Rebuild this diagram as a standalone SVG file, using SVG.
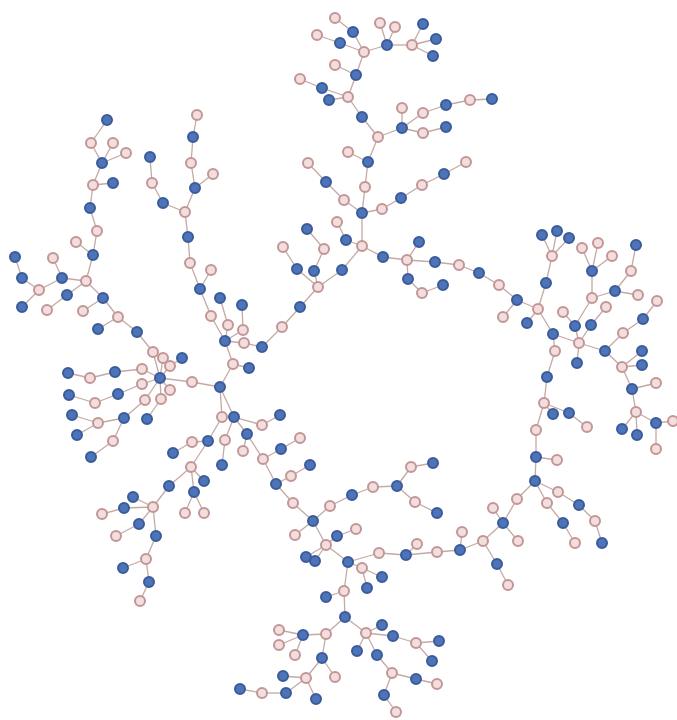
<svg xmlns="http://www.w3.org/2000/svg" width="677" height="720" viewBox="0 0 677 720">
<style>
.e line{stroke:#c4a9a4;stroke-width:1.3}
.b circle{fill:#4d74b8;stroke:#3a5b9a;stroke-width:2}
.p circle{fill:#f2dede;stroke:#c39595;stroke-width:2}
</style>
<rect width="677" height="720" fill="#ffffff"/>
<g id="connectors" class="e">
<line x1="107" y1="120" x2="91" y2="143"/><line x1="91" y1="143" x2="102" y2="163"/><line x1="113" y1="143" x2="102" y2="163"/><line x1="126" y1="153" x2="102" y2="163"/><line x1="102" y1="163" x2="93" y2="185"/><line x1="113" y1="183" x2="93" y2="185"/><line x1="93" y1="185" x2="90" y2="208"/><line x1="90" y1="208" x2="97" y2="231"/><line x1="97" y1="231" x2="93" y2="255"/><line x1="76" y1="242" x2="93" y2="255"/><line x1="93" y1="255" x2="86" y2="281"/><line x1="86" y1="281" x2="62" y2="278"/><line x1="62" y1="278" x2="53" y2="258"/><line x1="62" y1="278" x2="39" y2="290"/><line x1="39" y1="290" x2="22" y2="278"/><line x1="22" y1="278" x2="15" y2="257"/><line x1="39" y1="290" x2="22" y2="307"/><line x1="86" y1="281" x2="67" y2="295"/><line x1="67" y1="295" x2="47" y2="310"/><line x1="86" y1="281" x2="103" y2="298"/><line x1="103" y1="298" x2="83" y2="311"/><line x1="103" y1="298" x2="118" y2="317"/><line x1="118" y1="317" x2="98" y2="329"/><line x1="118" y1="317" x2="137" y2="332"/><line x1="137" y1="332" x2="153" y2="352"/><line x1="153" y1="352" x2="160" y2="378"/><line x1="163" y1="358" x2="160" y2="378"/><line x1="170" y1="366" x2="160" y2="378"/><line x1="170" y1="366" x2="182" y2="358"/><line x1="142" y1="369" x2="160" y2="378"/><line x1="115" y1="372" x2="142" y2="369"/><line x1="90" y1="378" x2="115" y2="372"/><line x1="68" y1="373" x2="90" y2="378"/><line x1="142" y1="384" x2="160" y2="378"/><line x1="118" y1="394" x2="142" y2="384"/><line x1="95" y1="403" x2="118" y2="394"/><line x1="69" y1="395" x2="95" y2="403"/><line x1="145" y1="400" x2="160" y2="378"/><line x1="124" y1="418" x2="145" y2="400"/><line x1="98" y1="423" x2="124" y2="418"/><line x1="72" y1="415" x2="98" y2="423"/><line x1="77" y1="435" x2="98" y2="423"/><line x1="113" y1="441" x2="124" y2="418"/><line x1="91" y1="457" x2="113" y2="441"/><line x1="161" y1="399" x2="160" y2="378"/><line x1="147" y1="419" x2="161" y2="399"/><line x1="170" y1="390" x2="160" y2="378"/><line x1="192" y1="382" x2="160" y2="378"/><line x1="192" y1="382" x2="220" y2="387"/>
<line x1="150" y1="157" x2="152" y2="183"/><line x1="152" y1="183" x2="163" y2="203"/><line x1="163" y1="203" x2="185" y2="212"/><line x1="197" y1="115" x2="193" y2="137"/><line x1="193" y1="137" x2="191" y2="163"/><line x1="191" y1="163" x2="195" y2="188"/><line x1="213" y1="174" x2="195" y2="188"/><line x1="195" y1="188" x2="185" y2="212"/><line x1="185" y1="212" x2="188" y2="237"/><line x1="188" y1="237" x2="190" y2="263"/><line x1="190" y1="263" x2="200" y2="289"/><line x1="211" y1="270" x2="200" y2="289"/><line x1="200" y1="289" x2="211" y2="316"/><line x1="228" y1="325" x2="220" y2="298"/><line x1="211" y1="316" x2="225" y2="341"/><line x1="225" y1="341" x2="228" y2="325"/><line x1="225" y1="341" x2="243" y2="330"/><line x1="243" y1="330" x2="242" y2="305"/><line x1="225" y1="341" x2="244" y2="343"/><line x1="244" y1="343" x2="262" y2="347"/><line x1="225" y1="341" x2="233" y2="364"/><line x1="233" y1="364" x2="220" y2="387"/><line x1="233" y1="364" x2="249" y2="368"/><line x1="262" y1="347" x2="282" y2="327"/><line x1="282" y1="327" x2="300" y2="307"/><line x1="300" y1="307" x2="318" y2="287"/>
<line x1="318" y1="287" x2="297" y2="269"/><line x1="297" y1="269" x2="283" y2="247"/><line x1="318" y1="287" x2="314" y2="271"/><line x1="314" y1="271" x2="324" y2="249"/><line x1="324" y1="249" x2="307" y2="229"/><line x1="318" y1="287" x2="342" y2="270"/><line x1="342" y1="270" x2="362" y2="246"/><line x1="362" y1="246" x2="346" y2="240"/><line x1="346" y1="240" x2="337" y2="222"/><line x1="362" y1="246" x2="362" y2="213"/><line x1="362" y1="213" x2="344" y2="200"/><line x1="344" y1="200" x2="326" y2="182"/><line x1="326" y1="182" x2="308" y2="163"/><line x1="362" y1="213" x2="382" y2="209"/><line x1="382" y1="209" x2="401" y2="198"/><line x1="401" y1="198" x2="422" y2="185"/><line x1="422" y1="185" x2="444" y2="174"/><line x1="444" y1="174" x2="466" y2="162"/><line x1="362" y1="213" x2="365" y2="187"/><line x1="365" y1="187" x2="368" y2="162"/><line x1="368" y1="162" x2="348" y2="152"/><line x1="368" y1="162" x2="378" y2="137"/><line x1="378" y1="137" x2="362" y2="117"/><line x1="362" y1="117" x2="348" y2="97"/><line x1="348" y1="97" x2="329" y2="100"/><line x1="348" y1="97" x2="322" y2="88"/><line x1="322" y1="88" x2="300" y2="79"/><line x1="348" y1="97" x2="356" y2="75"/><line x1="356" y1="75" x2="335" y2="65"/><line x1="356" y1="75" x2="364" y2="52"/><line x1="364" y1="52" x2="353" y2="32"/><line x1="353" y1="32" x2="335" y2="18"/><line x1="364" y1="52" x2="340" y2="43"/><line x1="340" y1="43" x2="317" y2="35"/><line x1="364" y1="52" x2="387" y2="45"/><line x1="387" y1="45" x2="380" y2="23"/><line x1="387" y1="45" x2="395" y2="27"/><line x1="387" y1="45" x2="412" y2="45"/><line x1="412" y1="45" x2="423" y2="24"/><line x1="412" y1="45" x2="436" y2="39"/><line x1="412" y1="45" x2="433" y2="56"/><line x1="378" y1="137" x2="402" y2="128"/><line x1="402" y1="128" x2="402" y2="108"/><line x1="402" y1="128" x2="423" y2="113"/><line x1="423" y1="113" x2="446" y2="105"/><line x1="446" y1="105" x2="470" y2="100"/><line x1="470" y1="100" x2="492" y2="99"/><line x1="402" y1="128" x2="423" y2="133"/><line x1="423" y1="133" x2="446" y2="127"/>
<line x1="362" y1="246" x2="383" y2="257"/><line x1="383" y1="257" x2="407" y2="260"/><line x1="407" y1="260" x2="419" y2="242"/><line x1="407" y1="260" x2="408" y2="279"/><line x1="408" y1="279" x2="422" y2="293"/><line x1="422" y1="293" x2="443" y2="285"/><line x1="407" y1="260" x2="435" y2="262"/><line x1="435" y1="262" x2="459" y2="265"/><line x1="459" y1="265" x2="479" y2="273"/><line x1="479" y1="273" x2="499" y2="285"/><line x1="499" y1="285" x2="517" y2="300"/><line x1="517" y1="300" x2="503" y2="317"/><line x1="517" y1="300" x2="538" y2="309"/><line x1="538" y1="309" x2="527" y2="323"/><line x1="538" y1="309" x2="546" y2="283"/><line x1="546" y1="283" x2="552" y2="256"/><line x1="552" y1="256" x2="542" y2="235"/><line x1="552" y1="256" x2="557" y2="231"/><line x1="552" y1="256" x2="569" y2="238"/><line x1="538" y1="309" x2="553" y2="334"/><line x1="553" y1="334" x2="579" y2="343"/><line x1="579" y1="343" x2="575" y2="326"/><line x1="575" y1="326" x2="563" y2="312"/><line x1="579" y1="343" x2="591" y2="325"/><line x1="575" y1="326" x2="592" y2="298"/><line x1="591" y1="325" x2="606" y2="307"/><line x1="592" y1="298" x2="592" y2="271"/><line x1="592" y1="271" x2="582" y2="248"/><line x1="592" y1="271" x2="598" y2="243"/><line x1="592" y1="271" x2="612" y2="256"/><line x1="592" y1="298" x2="615" y2="291"/><line x1="615" y1="291" x2="631" y2="271"/><line x1="631" y1="271" x2="636" y2="245"/><line x1="615" y1="291" x2="638" y2="295"/><line x1="579" y1="343" x2="577" y2="363"/><line x1="579" y1="343" x2="605" y2="351"/><line x1="605" y1="351" x2="623" y2="333"/><line x1="623" y1="333" x2="643" y2="319"/><line x1="643" y1="319" x2="657" y2="301"/><line x1="605" y1="351" x2="622" y2="367"/><line x1="622" y1="367" x2="642" y2="351"/><line x1="622" y1="367" x2="642" y2="365"/><line x1="622" y1="367" x2="632" y2="389"/><line x1="632" y1="389" x2="656" y2="383"/><line x1="632" y1="389" x2="636" y2="412"/><line x1="636" y1="412" x2="622" y2="429"/><line x1="636" y1="412" x2="637" y2="435"/><line x1="636" y1="412" x2="656" y2="423"/><line x1="656" y1="423" x2="673" y2="421"/><line x1="656" y1="423" x2="656" y2="449"/><line x1="553" y1="334" x2="555" y2="351"/><line x1="555" y1="351" x2="547" y2="377"/><line x1="547" y1="377" x2="544" y2="403"/><line x1="544" y1="403" x2="553" y2="414"/><line x1="544" y1="403" x2="569" y2="413"/><line x1="569" y1="413" x2="587" y2="427"/><line x1="544" y1="403" x2="536" y2="430"/><line x1="536" y1="430" x2="536" y2="457"/><line x1="536" y1="457" x2="557" y2="460"/><line x1="536" y1="457" x2="535" y2="481"/>
<line x1="535" y1="481" x2="517" y2="499"/><line x1="517" y1="499" x2="503" y2="523"/><line x1="503" y1="523" x2="493" y2="508"/><line x1="503" y1="523" x2="518" y2="541"/><line x1="503" y1="523" x2="483" y2="541"/><line x1="483" y1="541" x2="497" y2="564"/><line x1="497" y1="564" x2="508" y2="585"/><line x1="535" y1="481" x2="558" y2="492"/><line x1="558" y1="492" x2="579" y2="505"/><line x1="579" y1="505" x2="595" y2="521"/><line x1="595" y1="521" x2="602" y2="543"/><line x1="535" y1="481" x2="547" y2="503"/><line x1="547" y1="503" x2="563" y2="523"/><line x1="563" y1="523" x2="575" y2="543"/><line x1="483" y1="541" x2="460" y2="550"/><line x1="460" y1="550" x2="462" y2="532"/><line x1="460" y1="550" x2="437" y2="552"/>
<line x1="437" y1="552" x2="406" y2="555"/><line x1="406" y1="555" x2="417" y2="544"/><line x1="406" y1="555" x2="379" y2="553"/><line x1="379" y1="553" x2="348" y2="562"/><line x1="348" y1="562" x2="362" y2="568"/><line x1="362" y1="568" x2="382" y2="577"/><line x1="362" y1="568" x2="367" y2="588"/><line x1="348" y1="562" x2="326" y2="545"/><line x1="326" y1="545" x2="306" y2="557"/><line x1="326" y1="545" x2="315" y2="561"/><line x1="326" y1="545" x2="337" y2="536"/><line x1="337" y1="536" x2="356" y2="529"/><line x1="326" y1="545" x2="313" y2="521"/><line x1="313" y1="521" x2="295" y2="535"/><line x1="313" y1="521" x2="330" y2="506"/><line x1="330" y1="506" x2="352" y2="495"/><line x1="352" y1="495" x2="373" y2="487"/><line x1="373" y1="487" x2="397" y2="486"/><line x1="397" y1="486" x2="411" y2="467"/><line x1="411" y1="467" x2="433" y2="463"/><line x1="397" y1="486" x2="415" y2="502"/><line x1="415" y1="502" x2="437" y2="513"/><line x1="313" y1="521" x2="293" y2="503"/><line x1="293" y1="503" x2="276" y2="484"/><line x1="276" y1="484" x2="291" y2="476"/><line x1="291" y1="476" x2="310" y2="465"/><line x1="276" y1="484" x2="263" y2="459"/><line x1="263" y1="459" x2="281" y2="449"/><line x1="281" y1="449" x2="300" y2="438"/><line x1="263" y1="459" x2="247" y2="434"/><line x1="247" y1="434" x2="243" y2="451"/><line x1="247" y1="434" x2="234" y2="417"/><line x1="234" y1="417" x2="262" y2="425"/><line x1="262" y1="425" x2="280" y2="415"/><line x1="234" y1="417" x2="220" y2="387"/><line x1="222" y1="417" x2="220" y2="387"/><line x1="222" y1="417" x2="208" y2="441"/><line x1="208" y1="441" x2="192" y2="442"/><line x1="192" y1="442" x2="173" y2="453"/><line x1="234" y1="417" x2="225" y2="440"/><line x1="225" y1="440" x2="222" y2="465"/><line x1="348" y1="562" x2="344" y2="591"/><line x1="344" y1="591" x2="326" y2="597"/><line x1="344" y1="591" x2="345" y2="617"/><line x1="345" y1="617" x2="326" y2="634"/><line x1="326" y1="634" x2="303" y2="635"/><line x1="303" y1="635" x2="279" y2="630"/><line x1="303" y1="635" x2="279" y2="645"/><line x1="303" y1="635" x2="295" y2="655"/><line x1="326" y1="634" x2="322" y2="658"/><line x1="322" y1="658" x2="335" y2="677"/><line x1="322" y1="658" x2="306" y2="678"/><line x1="306" y1="678" x2="283" y2="676"/><line x1="306" y1="678" x2="286" y2="693"/><line x1="286" y1="693" x2="262" y2="693"/><line x1="262" y1="693" x2="240" y2="689"/><line x1="306" y1="678" x2="316" y2="699"/><line x1="345" y1="617" x2="366" y2="633"/><line x1="366" y1="633" x2="382" y2="625"/><line x1="366" y1="633" x2="393" y2="636"/><line x1="393" y1="636" x2="416" y2="643"/><line x1="416" y1="643" x2="439" y2="641"/><line x1="416" y1="643" x2="432" y2="661"/><line x1="366" y1="633" x2="357" y2="651"/><line x1="366" y1="633" x2="377" y2="655"/><line x1="377" y1="655" x2="392" y2="673"/><line x1="392" y1="673" x2="416" y2="679"/><line x1="416" y1="679" x2="437" y2="684"/><line x1="392" y1="673" x2="384" y2="695"/><line x1="384" y1="695" x2="396" y2="712"/>
<line x1="208" y1="441" x2="191" y2="467"/><line x1="191" y1="467" x2="169" y2="486"/><line x1="169" y1="486" x2="153" y2="507"/><line x1="191" y1="467" x2="204" y2="481"/><line x1="191" y1="467" x2="194" y2="492"/><line x1="194" y1="492" x2="185" y2="513"/><line x1="194" y1="492" x2="204" y2="513"/><line x1="153" y1="507" x2="133" y2="497"/><line x1="153" y1="507" x2="124" y2="508"/><line x1="124" y1="508" x2="102" y2="514"/><line x1="153" y1="507" x2="139" y2="524"/><line x1="139" y1="524" x2="116" y2="536"/><line x1="153" y1="507" x2="156" y2="536"/><line x1="156" y1="536" x2="146" y2="559"/><line x1="146" y1="559" x2="123" y2="568"/><line x1="146" y1="559" x2="149" y2="582"/><line x1="149" y1="582" x2="140" y2="601"/>
</g>
<g id="nodes">
<g id="n1" class="b"><circle cx="107" cy="120" r="5"/></g>
<g id="n2" class="p"><circle cx="91" cy="143" r="5"/></g>
<g id="n3" class="p"><circle cx="113" cy="143" r="5"/></g>
<g id="n4" class="p"><circle cx="126" cy="153" r="5"/></g>
<g id="n5" class="b"><circle cx="102" cy="163" r="5"/></g>
<g id="n6" class="b"><circle cx="113" cy="183" r="5"/></g>
<g id="n7" class="p"><circle cx="93" cy="185" r="5"/></g>
<g id="n8" class="b"><circle cx="90" cy="208" r="5"/></g>
<g id="n9" class="p"><circle cx="97" cy="231" r="5"/></g>
<g id="n10" class="p"><circle cx="76" cy="242" r="5"/></g>
<g id="n11" class="b"><circle cx="93" cy="255" r="5"/></g>
<g id="n12" class="p"><circle cx="86" cy="281" r="5"/></g>
<g id="n13" class="b"><circle cx="62" cy="278" r="5"/></g>
<g id="n14" class="p"><circle cx="53" cy="258" r="5"/></g>
<g id="n15" class="p"><circle cx="39" cy="290" r="5"/></g>
<g id="n16" class="b"><circle cx="22" cy="278" r="5"/></g>
<g id="n17" class="b"><circle cx="15" cy="257" r="5"/></g>
<g id="n18" class="b"><circle cx="22" cy="307" r="5"/></g>
<g id="n19" class="b"><circle cx="67" cy="295" r="5"/></g>
<g id="n20" class="p"><circle cx="47" cy="310" r="5"/></g>
<g id="n21" class="p"><circle cx="83" cy="311" r="5"/></g>
<g id="n22" class="b"><circle cx="103" cy="298" r="5"/></g>
<g id="n23" class="p"><circle cx="118" cy="317" r="5"/></g>
<g id="n24" class="b"><circle cx="98" cy="329" r="5"/></g>
<g id="n25" class="b"><circle cx="137" cy="332" r="5"/></g>
<g id="n26" class="p"><circle cx="153" cy="352" r="5"/></g>
<g id="n27" class="p"><circle cx="163" cy="358" r="5"/></g>
<g id="n28" class="p"><circle cx="170" cy="366" r="5"/></g>
<g id="n29" class="b"><circle cx="182" cy="358" r="5"/></g>
<g id="n30" class="b"><circle cx="160" cy="378" r="5"/></g>
<g id="n31" class="p"><circle cx="142" cy="369" r="5"/></g>
<g id="n32" class="b"><circle cx="115" cy="372" r="5"/></g>
<g id="n33" class="p"><circle cx="90" cy="378" r="5"/></g>
<g id="n34" class="b"><circle cx="68" cy="373" r="5"/></g>
<g id="n35" class="p"><circle cx="142" cy="384" r="5"/></g>
<g id="n36" class="b"><circle cx="118" cy="394" r="5"/></g>
<g id="n37" class="p"><circle cx="95" cy="403" r="5"/></g>
<g id="n38" class="b"><circle cx="69" cy="395" r="5"/></g>
<g id="n39" class="p"><circle cx="145" cy="400" r="5"/></g>
<g id="n40" class="b"><circle cx="124" cy="418" r="5"/></g>
<g id="n41" class="p"><circle cx="98" cy="423" r="5"/></g>
<g id="n42" class="b"><circle cx="72" cy="415" r="5"/></g>
<g id="n43" class="b"><circle cx="77" cy="435" r="5"/></g>
<g id="n44" class="p"><circle cx="113" cy="441" r="5"/></g>
<g id="n45" class="b"><circle cx="91" cy="457" r="5"/></g>
<g id="n46" class="p"><circle cx="161" cy="399" r="5"/></g>
<g id="n47" class="b"><circle cx="147" cy="419" r="5"/></g>
<g id="n48" class="p"><circle cx="170" cy="390" r="5"/></g>
<g id="n49" class="p"><circle cx="192" cy="382" r="5"/></g>
<g id="n50" class="b"><circle cx="220" cy="387" r="5"/></g>
<g id="n51" class="b"><circle cx="150" cy="157" r="5"/></g>
<g id="n52" class="p"><circle cx="152" cy="183" r="5"/></g>
<g id="n53" class="b"><circle cx="163" cy="203" r="5"/></g>
<g id="n54" class="p"><circle cx="185" cy="212" r="5"/></g>
<g id="n55" class="p"><circle cx="197" cy="115" r="5"/></g>
<g id="n56" class="b"><circle cx="193" cy="137" r="5"/></g>
<g id="n57" class="p"><circle cx="191" cy="163" r="5"/></g>
<g id="n58" class="p"><circle cx="213" cy="174" r="5"/></g>
<g id="n59" class="b"><circle cx="195" cy="188" r="5"/></g>
<g id="n60" class="b"><circle cx="188" cy="237" r="5"/></g>
<g id="n61" class="p"><circle cx="190" cy="263" r="5"/></g>
<g id="n62" class="p"><circle cx="211" cy="270" r="5"/></g>
<g id="n63" class="b"><circle cx="200" cy="289" r="5"/></g>
<g id="n64" class="p"><circle cx="211" cy="316" r="5"/></g>
<g id="n65" class="b"><circle cx="220" cy="298" r="5"/></g>
<g id="n66" class="b"><circle cx="225" cy="341" r="5"/></g>
<g id="n67" class="p"><circle cx="228" cy="325" r="5"/></g>
<g id="n68" class="p"><circle cx="243" cy="330" r="5"/></g>
<g id="n69" class="b"><circle cx="242" cy="305" r="5"/></g>
<g id="n70" class="p"><circle cx="244" cy="343" r="5"/></g>
<g id="n71" class="p"><circle cx="233" cy="364" r="5"/></g>
<g id="n72" class="b"><circle cx="249" cy="368" r="5"/></g>
<g id="n73" class="b"><circle cx="262" cy="347" r="5"/></g>
<g id="n74" class="p"><circle cx="282" cy="327" r="5"/></g>
<g id="n75" class="b"><circle cx="300" cy="307" r="5"/></g>
<g id="n76" class="p"><circle cx="318" cy="287" r="5"/></g>
<g id="n77" class="b"><circle cx="297" cy="269" r="5"/></g>
<g id="n78" class="p"><circle cx="283" cy="247" r="5"/></g>
<g id="n79" class="b"><circle cx="314" cy="271" r="5"/></g>
<g id="n80" class="p"><circle cx="324" cy="249" r="5"/></g>
<g id="n81" class="b"><circle cx="307" cy="229" r="5"/></g>
<g id="n82" class="b"><circle cx="342" cy="270" r="5"/></g>
<g id="n83" class="p"><circle cx="362" cy="246" r="5"/></g>
<g id="n84" class="b"><circle cx="346" cy="240" r="5"/></g>
<g id="n85" class="p"><circle cx="337" cy="222" r="5"/></g>
<g id="n86" class="b"><circle cx="362" cy="213" r="5"/></g>
<g id="n87" class="p"><circle cx="344" cy="200" r="5"/></g>
<g id="n88" class="b"><circle cx="326" cy="182" r="5"/></g>
<g id="n89" class="p"><circle cx="308" cy="163" r="5"/></g>
<g id="n90" class="p"><circle cx="382" cy="209" r="5"/></g>
<g id="n91" class="b"><circle cx="401" cy="198" r="5"/></g>
<g id="n92" class="p"><circle cx="422" cy="185" r="5"/></g>
<g id="n93" class="b"><circle cx="444" cy="174" r="5"/></g>
<g id="n94" class="p"><circle cx="466" cy="162" r="5"/></g>
<g id="n95" class="p"><circle cx="365" cy="187" r="5"/></g>
<g id="n96" class="b"><circle cx="368" cy="162" r="5"/></g>
<g id="n97" class="p"><circle cx="348" cy="152" r="5"/></g>
<g id="n98" class="p"><circle cx="378" cy="137" r="5"/></g>
<g id="n99" class="b"><circle cx="362" cy="117" r="5"/></g>
<g id="n100" class="p"><circle cx="348" cy="97" r="5"/></g>
<g id="n101" class="b"><circle cx="329" cy="100" r="5"/></g>
<g id="n102" class="b"><circle cx="322" cy="88" r="5"/></g>
<g id="n103" class="p"><circle cx="300" cy="79" r="5"/></g>
<g id="n104" class="b"><circle cx="356" cy="75" r="5"/></g>
<g id="n105" class="p"><circle cx="335" cy="65" r="5"/></g>
<g id="n106" class="p"><circle cx="364" cy="52" r="5"/></g>
<g id="n107" class="b"><circle cx="353" cy="32" r="5"/></g>
<g id="n108" class="p"><circle cx="335" cy="18" r="5"/></g>
<g id="n109" class="b"><circle cx="340" cy="43" r="5"/></g>
<g id="n110" class="p"><circle cx="317" cy="35" r="5"/></g>
<g id="n111" class="b"><circle cx="387" cy="45" r="5"/></g>
<g id="n112" class="p"><circle cx="380" cy="23" r="5"/></g>
<g id="n113" class="p"><circle cx="395" cy="27" r="5"/></g>
<g id="n114" class="p"><circle cx="412" cy="45" r="5"/></g>
<g id="n115" class="b"><circle cx="423" cy="24" r="5"/></g>
<g id="n116" class="b"><circle cx="436" cy="39" r="5"/></g>
<g id="n117" class="b"><circle cx="433" cy="56" r="5"/></g>
<g id="n118" class="b"><circle cx="402" cy="128" r="5"/></g>
<g id="n119" class="p"><circle cx="402" cy="108" r="5"/></g>
<g id="n120" class="p"><circle cx="423" cy="113" r="5"/></g>
<g id="n121" class="b"><circle cx="446" cy="105" r="5"/></g>
<g id="n122" class="p"><circle cx="470" cy="100" r="5"/></g>
<g id="n123" class="b"><circle cx="492" cy="99" r="5"/></g>
<g id="n124" class="p"><circle cx="423" cy="133" r="5"/></g>
<g id="n125" class="b"><circle cx="446" cy="127" r="5"/></g>
<g id="n126" class="b"><circle cx="383" cy="257" r="5"/></g>
<g id="n127" class="p"><circle cx="407" cy="260" r="5"/></g>
<g id="n128" class="b"><circle cx="419" cy="242" r="5"/></g>
<g id="n129" class="b"><circle cx="408" cy="279" r="5"/></g>
<g id="n130" class="p"><circle cx="422" cy="293" r="5"/></g>
<g id="n131" class="b"><circle cx="443" cy="285" r="5"/></g>
<g id="n132" class="b"><circle cx="435" cy="262" r="5"/></g>
<g id="n133" class="p"><circle cx="459" cy="265" r="5"/></g>
<g id="n134" class="b"><circle cx="479" cy="273" r="5"/></g>
<g id="n135" class="p"><circle cx="499" cy="285" r="5"/></g>
<g id="n136" class="b"><circle cx="517" cy="300" r="5"/></g>
<g id="n137" class="p"><circle cx="503" cy="317" r="5"/></g>
<g id="n138" class="p"><circle cx="538" cy="309" r="5"/></g>
<g id="n139" class="b"><circle cx="527" cy="323" r="5"/></g>
<g id="n140" class="b"><circle cx="546" cy="283" r="5"/></g>
<g id="n141" class="p"><circle cx="552" cy="256" r="5"/></g>
<g id="n142" class="b"><circle cx="542" cy="235" r="5"/></g>
<g id="n143" class="b"><circle cx="557" cy="231" r="5"/></g>
<g id="n144" class="b"><circle cx="569" cy="238" r="5"/></g>
<g id="n145" class="b"><circle cx="553" cy="334" r="5"/></g>
<g id="n146" class="p"><circle cx="579" cy="343" r="5"/></g>
<g id="n147" class="b"><circle cx="575" cy="326" r="5"/></g>
<g id="n148" class="p"><circle cx="563" cy="312" r="5"/></g>
<g id="n149" class="b"><circle cx="591" cy="325" r="5"/></g>
<g id="n150" class="p"><circle cx="592" cy="298" r="5"/></g>
<g id="n151" class="p"><circle cx="606" cy="307" r="5"/></g>
<g id="n152" class="b"><circle cx="592" cy="271" r="5"/></g>
<g id="n153" class="p"><circle cx="582" cy="248" r="5"/></g>
<g id="n154" class="p"><circle cx="598" cy="243" r="5"/></g>
<g id="n155" class="p"><circle cx="612" cy="256" r="5"/></g>
<g id="n156" class="b"><circle cx="615" cy="291" r="5"/></g>
<g id="n157" class="p"><circle cx="631" cy="271" r="5"/></g>
<g id="n158" class="b"><circle cx="636" cy="245" r="5"/></g>
<g id="n159" class="p"><circle cx="638" cy="295" r="5"/></g>
<g id="n160" class="b"><circle cx="577" cy="363" r="5"/></g>
<g id="n161" class="b"><circle cx="605" cy="351" r="5"/></g>
<g id="n162" class="p"><circle cx="623" cy="333" r="5"/></g>
<g id="n163" class="b"><circle cx="643" cy="319" r="5"/></g>
<g id="n164" class="p"><circle cx="657" cy="301" r="5"/></g>
<g id="n165" class="p"><circle cx="622" cy="367" r="5"/></g>
<g id="n166" class="b"><circle cx="642" cy="351" r="5"/></g>
<g id="n167" class="b"><circle cx="642" cy="365" r="5"/></g>
<g id="n168" class="b"><circle cx="632" cy="389" r="5"/></g>
<g id="n169" class="p"><circle cx="656" cy="383" r="5"/></g>
<g id="n170" class="p"><circle cx="636" cy="412" r="5"/></g>
<g id="n171" class="b"><circle cx="622" cy="429" r="5"/></g>
<g id="n172" class="b"><circle cx="637" cy="435" r="5"/></g>
<g id="n173" class="b"><circle cx="656" cy="423" r="5"/></g>
<g id="n174" class="p"><circle cx="673" cy="421" r="5"/></g>
<g id="n175" class="p"><circle cx="656" cy="449" r="5"/></g>
<g id="n176" class="p"><circle cx="555" cy="351" r="5"/></g>
<g id="n177" class="b"><circle cx="547" cy="377" r="5"/></g>
<g id="n178" class="p"><circle cx="544" cy="403" r="5"/></g>
<g id="n179" class="b"><circle cx="553" cy="414" r="5"/></g>
<g id="n180" class="b"><circle cx="569" cy="413" r="5"/></g>
<g id="n181" class="p"><circle cx="587" cy="427" r="5"/></g>
<g id="n182" class="p"><circle cx="536" cy="430" r="5"/></g>
<g id="n183" class="b"><circle cx="536" cy="457" r="5"/></g>
<g id="n184" class="p"><circle cx="557" cy="460" r="5"/></g>
<g id="n185" class="b"><circle cx="535" cy="481" r="5"/></g>
<g id="n186" class="p"><circle cx="517" cy="499" r="5"/></g>
<g id="n187" class="b"><circle cx="503" cy="523" r="5"/></g>
<g id="n188" class="p"><circle cx="493" cy="508" r="5"/></g>
<g id="n189" class="p"><circle cx="518" cy="541" r="5"/></g>
<g id="n190" class="p"><circle cx="483" cy="541" r="5"/></g>
<g id="n191" class="b"><circle cx="497" cy="564" r="5"/></g>
<g id="n192" class="p"><circle cx="508" cy="585" r="5"/></g>
<g id="n193" class="p"><circle cx="558" cy="492" r="5"/></g>
<g id="n194" class="b"><circle cx="579" cy="505" r="5"/></g>
<g id="n195" class="p"><circle cx="595" cy="521" r="5"/></g>
<g id="n196" class="b"><circle cx="602" cy="543" r="5"/></g>
<g id="n197" class="p"><circle cx="547" cy="503" r="5"/></g>
<g id="n198" class="b"><circle cx="563" cy="523" r="5"/></g>
<g id="n199" class="p"><circle cx="575" cy="543" r="5"/></g>
<g id="n200" class="b"><circle cx="460" cy="550" r="5"/></g>
<g id="n201" class="p"><circle cx="462" cy="532" r="5"/></g>
<g id="n202" class="p"><circle cx="437" cy="552" r="5"/></g>
<g id="n203" class="b"><circle cx="406" cy="555" r="5"/></g>
<g id="n204" class="p"><circle cx="417" cy="544" r="5"/></g>
<g id="n205" class="p"><circle cx="379" cy="553" r="5"/></g>
<g id="n206" class="b"><circle cx="348" cy="562" r="5"/></g>
<g id="n207" class="p"><circle cx="362" cy="568" r="5"/></g>
<g id="n208" class="b"><circle cx="382" cy="577" r="5"/></g>
<g id="n209" class="b"><circle cx="367" cy="588" r="5"/></g>
<g id="n210" class="p"><circle cx="326" cy="545" r="5"/></g>
<g id="n211" class="b"><circle cx="306" cy="557" r="5"/></g>
<g id="n212" class="b"><circle cx="315" cy="561" r="5"/></g>
<g id="n213" class="b"><circle cx="337" cy="536" r="5"/></g>
<g id="n214" class="p"><circle cx="356" cy="529" r="5"/></g>
<g id="n215" class="b"><circle cx="313" cy="521" r="5"/></g>
<g id="n216" class="p"><circle cx="295" cy="535" r="5"/></g>
<g id="n217" class="p"><circle cx="330" cy="506" r="5"/></g>
<g id="n218" class="b"><circle cx="352" cy="495" r="5"/></g>
<g id="n219" class="p"><circle cx="373" cy="487" r="5"/></g>
<g id="n220" class="b"><circle cx="397" cy="486" r="5"/></g>
<g id="n221" class="p"><circle cx="411" cy="467" r="5"/></g>
<g id="n222" class="b"><circle cx="433" cy="463" r="5"/></g>
<g id="n223" class="p"><circle cx="415" cy="502" r="5"/></g>
<g id="n224" class="b"><circle cx="437" cy="513" r="5"/></g>
<g id="n225" class="p"><circle cx="293" cy="503" r="5"/></g>
<g id="n226" class="b"><circle cx="276" cy="484" r="5"/></g>
<g id="n227" class="p"><circle cx="291" cy="476" r="5"/></g>
<g id="n228" class="b"><circle cx="310" cy="465" r="5"/></g>
<g id="n229" class="p"><circle cx="263" cy="459" r="5"/></g>
<g id="n230" class="b"><circle cx="281" cy="449" r="5"/></g>
<g id="n231" class="p"><circle cx="300" cy="438" r="5"/></g>
<g id="n232" class="b"><circle cx="247" cy="434" r="5"/></g>
<g id="n233" class="p"><circle cx="243" cy="451" r="5"/></g>
<g id="n234" class="b"><circle cx="234" cy="417" r="5"/></g>
<g id="n235" class="p"><circle cx="262" cy="425" r="5"/></g>
<g id="n236" class="b"><circle cx="280" cy="415" r="5"/></g>
<g id="n237" class="p"><circle cx="222" cy="417" r="5"/></g>
<g id="n238" class="b"><circle cx="208" cy="441" r="5"/></g>
<g id="n239" class="p"><circle cx="192" cy="442" r="5"/></g>
<g id="n240" class="b"><circle cx="173" cy="453" r="5"/></g>
<g id="n241" class="p"><circle cx="225" cy="440" r="5"/></g>
<g id="n242" class="b"><circle cx="222" cy="465" r="5"/></g>
<g id="n243" class="p"><circle cx="344" cy="591" r="5"/></g>
<g id="n244" class="b"><circle cx="326" cy="597" r="5"/></g>
<g id="n245" class="b"><circle cx="345" cy="617" r="5"/></g>
<g id="n246" class="p"><circle cx="326" cy="634" r="5"/></g>
<g id="n247" class="b"><circle cx="303" cy="635" r="5"/></g>
<g id="n248" class="p"><circle cx="279" cy="630" r="5"/></g>
<g id="n249" class="p"><circle cx="279" cy="645" r="5"/></g>
<g id="n250" class="p"><circle cx="295" cy="655" r="5"/></g>
<g id="n251" class="b"><circle cx="322" cy="658" r="5"/></g>
<g id="n252" class="p"><circle cx="335" cy="677" r="5"/></g>
<g id="n253" class="p"><circle cx="306" cy="678" r="5"/></g>
<g id="n254" class="b"><circle cx="283" cy="676" r="5"/></g>
<g id="n255" class="b"><circle cx="286" cy="693" r="5"/></g>
<g id="n256" class="p"><circle cx="262" cy="693" r="5"/></g>
<g id="n257" class="b"><circle cx="240" cy="689" r="5"/></g>
<g id="n258" class="b"><circle cx="316" cy="699" r="5"/></g>
<g id="n259" class="p"><circle cx="366" cy="633" r="5"/></g>
<g id="n260" class="b"><circle cx="382" cy="625" r="5"/></g>
<g id="n261" class="b"><circle cx="393" cy="636" r="5"/></g>
<g id="n262" class="p"><circle cx="416" cy="643" r="5"/></g>
<g id="n263" class="b"><circle cx="439" cy="641" r="5"/></g>
<g id="n264" class="b"><circle cx="432" cy="661" r="5"/></g>
<g id="n265" class="b"><circle cx="357" cy="651" r="5"/></g>
<g id="n266" class="b"><circle cx="377" cy="655" r="5"/></g>
<g id="n267" class="p"><circle cx="392" cy="673" r="5"/></g>
<g id="n268" class="b"><circle cx="416" cy="679" r="5"/></g>
<g id="n269" class="p"><circle cx="437" cy="684" r="5"/></g>
<g id="n270" class="b"><circle cx="384" cy="695" r="5"/></g>
<g id="n271" class="p"><circle cx="396" cy="712" r="5"/></g>
<g id="n272" class="p"><circle cx="191" cy="467" r="5"/></g>
<g id="n273" class="b"><circle cx="169" cy="486" r="5"/></g>
<g id="n274" class="b"><circle cx="204" cy="481" r="5"/></g>
<g id="n275" class="b"><circle cx="194" cy="492" r="5"/></g>
<g id="n276" class="p"><circle cx="185" cy="513" r="5"/></g>
<g id="n277" class="p"><circle cx="204" cy="513" r="5"/></g>
<g id="n278" class="p"><circle cx="153" cy="507" r="5"/></g>
<g id="n279" class="b"><circle cx="133" cy="497" r="5"/></g>
<g id="n280" class="b"><circle cx="124" cy="508" r="5"/></g>
<g id="n281" class="p"><circle cx="102" cy="514" r="5"/></g>
<g id="n282" class="b"><circle cx="139" cy="524" r="5"/></g>
<g id="n283" class="p"><circle cx="116" cy="536" r="5"/></g>
<g id="n284" class="b"><circle cx="156" cy="536" r="5"/></g>
<g id="n285" class="p"><circle cx="146" cy="559" r="5"/></g>
<g id="n286" class="b"><circle cx="123" cy="568" r="5"/></g>
<g id="n287" class="b"><circle cx="149" cy="582" r="5"/></g>
<g id="n288" class="p"><circle cx="140" cy="601" r="5"/></g>
</g>
</svg>
